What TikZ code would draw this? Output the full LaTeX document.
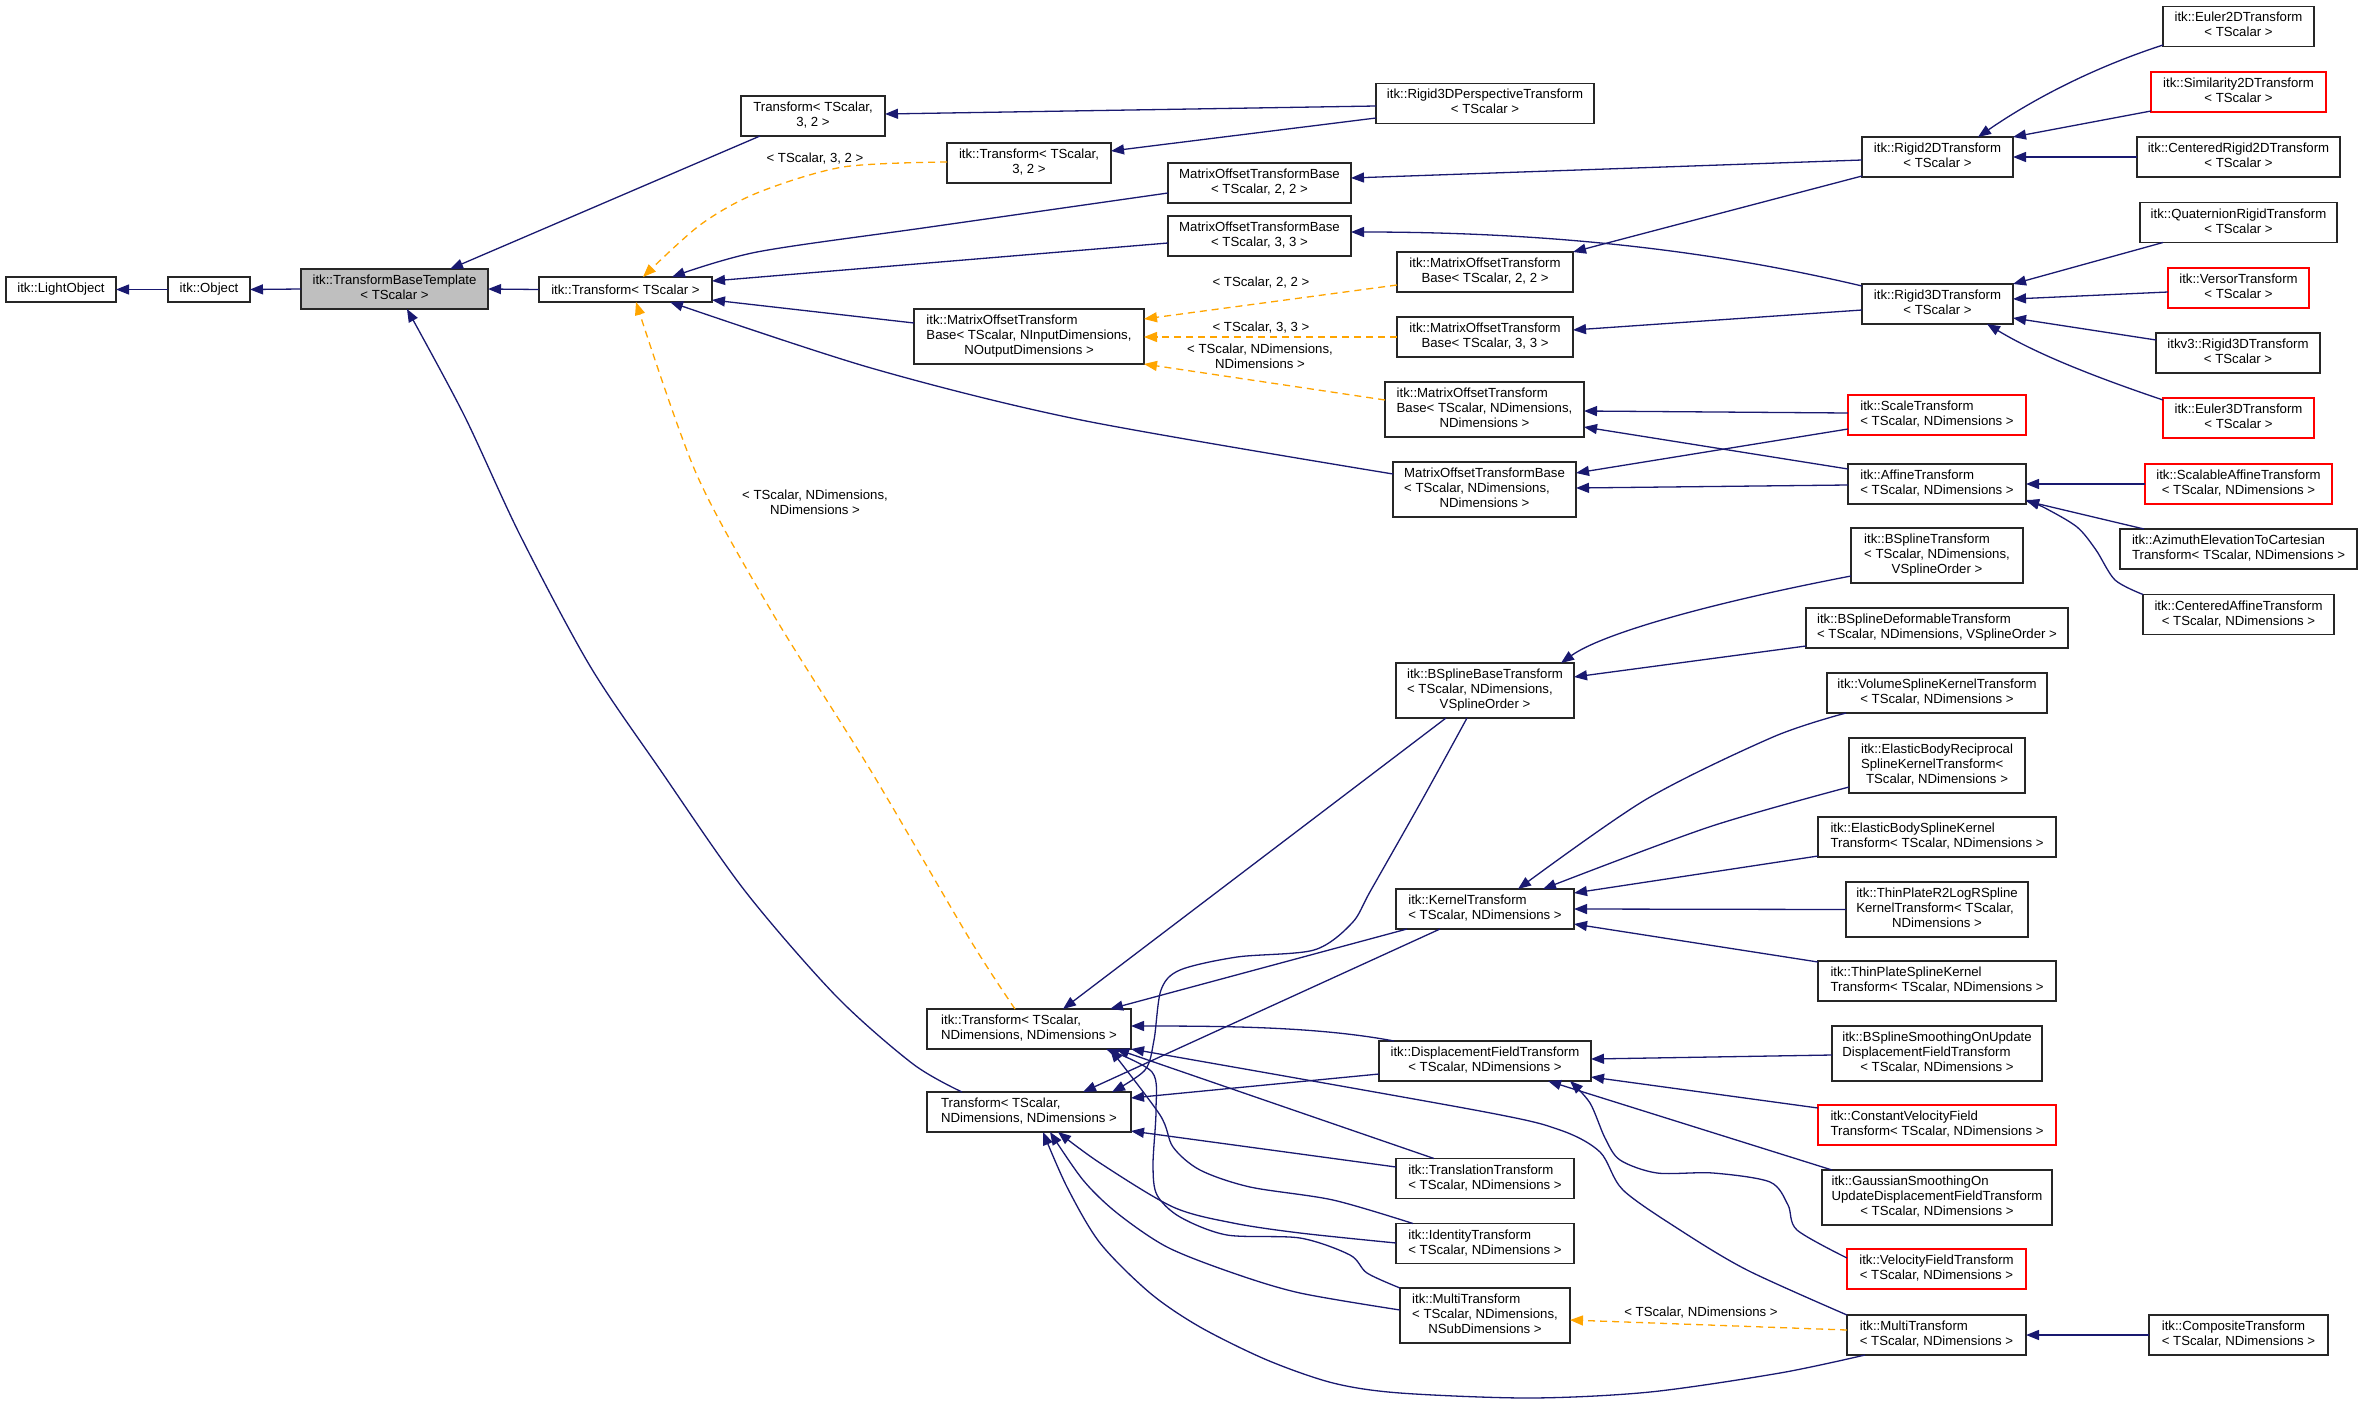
\documentclass[tikz,border=0pt]{standalone}
\usepackage{fontspec}
\setmainfont{Liberation Sans}
\usetikzlibrary{arrows.meta}
\definecolor{navy}{HTML}{191970}
\definecolor{dorange}{HTML}{FFA500}
\definecolor{boxgray}{HTML}{BFBFBF}
\definecolor{boxred}{HTML}{FF0000}
\newcommand{\ml}[2]{\begin{tabular}{@{}l@{}}#1\\\multicolumn{1}{@{}c@{}}{#2}\end{tabular}}
\tikzset{
  cls/.style={draw=black!85, line width=1.4pt, fill=white, inner sep=0pt, outer sep=0pt,
    font=\fontsize{13.2pt}{15pt}\selectfont},
  redcls/.style={cls, draw=boxred},
  bw/.style={minimum width=#1pt},
  bh/.style={minimum height=#1pt},
  lab/.style={inner sep=0pt, align=center, font=\fontsize{13.2pt}{15pt}\selectfont},
  edge/.style={draw=navy, line width=1.3pt, -{Triangle[length=13pt,width=10pt]}},
  dedge/.style={draw=dorange, line width=1.3pt, dash pattern=on 7pt off 5pt, -{Triangle[length=13pt,width=10pt]}}
}
\begin{document}
\begin{tikzpicture}[x=1pt,y=-1pt]
\useasboundingbox (0,0) rectangle (2363,1405);
\fill[white] (0,0) rectangle (2363,1405);
% nodes
\node[cls,bw=110,bh=25] (lo) at (61,289.5) {itk::LightObject};
\node[cls,bw=82,bh=25] (obj) at (209,289.5) {itk::Object};
\node[cls,fill=boxgray,bw=187,bh=40] (tbt) at (394.5,289) {\ml{itk::TransformBaseTemplate}{< TScalar >}};
\node[cls,bw=173,bh=25] (t) at (625.5,289.5) {itk::Transform< TScalar >};
\node[cls,bw=144,bh=40] (t32) at (813,116) {\ml{Transform< TScalar,}{3, 2 >}};
\node[cls,bw=218,bh=40] (r3dp) at (1485,103.5) {\ml{itk::Rigid3DPerspectiveTransform}{< TScalar >}};
\node[cls,bw=164,bh=40] (it32) at (1029,163) {\ml{itk::Transform< TScalar,}{3, 2 >}};
\node[cls,bw=183,bh=40] (m22) at (1259.5,183) {\ml{MatrixOffsetTransformBase}{< TScalar, 2, 2 >}};
\node[cls,bw=183,bh=40] (m33) at (1259.5,236) {\ml{MatrixOffsetTransformBase}{< TScalar, 3, 3 >}};
\node[cls,bw=176,bh=40] (im22) at (1485,272) {\ml{itk::MatrixOffsetTransform}{Base< TScalar, 2, 2 >}};
\node[cls,bw=176,bh=40] (im33) at (1485,337) {\ml{itk::MatrixOffsetTransform}{Base< TScalar, 3, 3 >}};
\node[cls,bw=230,bh=55] (imn) at (1029,336.5) {\ml{itk::MatrixOffsetTransform\\Base< TScalar, NInputDimensions,}{NOutputDimensions >}};
\node[cls,bw=199,bh=55] (imnn) at (1484.5,409.5) {\ml{itk::MatrixOffsetTransform\\Base< TScalar, NDimensions,}{NDimensions >}};
\node[cls,bw=183,bh=55] (mnn) at (1484.5,489.5) {\ml{MatrixOffsetTransformBase\\< TScalar, NDimensions,}{NDimensions >}};
\node[cls,bw=151,bh=40] (euler2d) at (2238.5,26.5) {\ml{itk::Euler2DTransform}{< TScalar >}};
\node[redcls,bw=175,bh=40] (sim2d) at (2238.5,92) {\ml{itk::Similarity2DTransform}{< TScalar >}};
\node[cls,bw=151,bh=40] (r2d) at (1937.5,157) {\ml{itk::Rigid2DTransform}{< TScalar >}};
\node[cls,bw=203,bh=40] (cr2d) at (2238.5,157) {\ml{itk::CenteredRigid2DTransform}{< TScalar >}};
\node[cls,bw=197,bh=40] (quat) at (2238.5,222.5) {\ml{itk::QuaternionRigidTransform}{< TScalar >}};
\node[redcls,bw=141,bh=40] (versor) at (2238.5,288) {\ml{itk::VersorTransform}{< TScalar >}};
\node[cls,bw=151,bh=40] (r3d) at (1937.5,304) {\ml{itk::Rigid3DTransform}{< TScalar >}};
\node[cls,bw=164,bh=40] (v3) at (2238,353) {\ml{itkv3::Rigid3DTransform}{< TScalar >}};
\node[redcls,bw=151,bh=40] (euler3d) at (2238.5,418) {\ml{itk::Euler3DTransform}{< TScalar >}};
\node[redcls,bw=178,bh=40] (scale) at (1937,415) {\ml{itk::ScaleTransform}{< TScalar, NDimensions >}};
\node[cls,bw=178,bh=40] (affine) at (1937,484) {\ml{itk::AffineTransform}{< TScalar, NDimensions >}};
\node[redcls,bw=187,bh=40] (scalaff) at (2238.5,484) {\ml{itk::ScalableAffineTransform}{< TScalar, NDimensions >}};
\node[cls,bw=237,bh=40] (azim) at (2238.5,549) {\ml{itk::AzimuthElevationToCartesian}{Transform< TScalar, NDimensions >}};
\node[cls,bw=191,bh=40] (caff) at (2238.5,614.5) {\ml{itk::CenteredAffineTransform}{< TScalar, NDimensions >}};
\node[cls,bw=172,bh=55] (bspt) at (1937,555.5) {\ml{itk::BSplineTransform\\< TScalar, NDimensions,}{VSplineOrder >}};
\node[cls,bw=262,bh=40] (bspd) at (1937,628) {\ml{itk::BSplineDeformableTransform}{< TScalar, NDimensions, VSplineOrder >}};
\node[cls,bw=178,bh=55] (bspb) at (1485,690.5) {\ml{itk::BSplineBaseTransform\\< TScalar, NDimensions,}{VSplineOrder >}};
\node[cls,bw=220,bh=40] (vol) at (1937,693) {\ml{itk::VolumeSplineKernelTransform}{< TScalar, NDimensions >}};
\node[cls,bw=176,bh=55] (ebr) at (1937,765.5) {\ml{itk::ElasticBodyReciprocal\\SplineKernelTransform<}{TScalar, NDimensions >}};
\node[cls,bw=238,bh=40] (ebs) at (1937,837) {\ml{itk::ElasticBodySplineKernel}{Transform< TScalar, NDimensions >}};
\node[cls,bw=182,bh=55] (tpr2) at (1937,909.5) {\ml{itk::ThinPlateR2LogRSpline\\KernelTransform< TScalar,}{NDimensions >}};
\node[cls,bw=238,bh=40] (tps) at (1937,981) {\ml{itk::ThinPlateSplineKernel}{Transform< TScalar, NDimensions >}};
\node[cls,bw=178,bh=40] (kern) at (1485,909) {\ml{itk::KernelTransform}{< TScalar, NDimensions >}};
\node[cls,bw=204,bh=40] (itn) at (1029,1029) {\ml{itk::Transform< TScalar,}{NDimensions, NDimensions >}};
\node[cls,bw=204,bh=40] (tn) at (1029,1112) {\ml{Transform< TScalar,}{NDimensions, NDimensions >}};
\node[cls,bw=212,bh=40] (df) at (1485,1061) {\ml{itk::DisplacementFieldTransform}{< TScalar, NDimensions >}};
\node[cls,bw=210,bh=55] (bss) at (1937,1053.5) {\ml{itk::BSplineSmoothingOnUpdate\\DisplacementFieldTransform}{< TScalar, NDimensions >}};
\node[redcls,bw=238,bh=40] (cvf) at (1937,1125) {\ml{itk::ConstantVelocityField}{Transform< TScalar, NDimensions >}};
\node[cls,bw=230,bh=55] (gauss) at (1937,1197.5) {\ml{itk::GaussianSmoothingOn\\UpdateDisplacementFieldTransform}{< TScalar, NDimensions >}};
\node[redcls,bw=179,bh=40] (vf) at (1936.5,1269) {\ml{itk::VelocityFieldTransform}{< TScalar, NDimensions >}};
\node[cls,bw=179,bh=40] (mtn) at (1936.5,1335) {\ml{itk::MultiTransform}{< TScalar, NDimensions >}};
\node[cls,bw=179,bh=40] (comp) at (2238.5,1335) {\ml{itk::CompositeTransform}{< TScalar, NDimensions >}};
\node[cls,bw=178,bh=40] (trans) at (1485,1178.5) {\ml{itk::TranslationTransform}{< TScalar, NDimensions >}};
\node[cls,bw=178,bh=40] (ident) at (1485,1243.5) {\ml{itk::IdentityTransform}{< TScalar, NDimensions >}};
\node[cls,bw=170,bh=55] (mtsub) at (1485,1315.5) {\ml{itk::MultiTransform\\< TScalar, NDimensions,}{NSubDimensions >}};
% labels
\node[lab] (l32) at (815,159) {< TScalar, 3, 2 >};
\node[lab] (l22) at (1261,283) {< TScalar, 2, 2 >};
\node[lab] (l33) at (1261,328) {< TScalar, 3, 3 >};
\node[lab] (lnn) at (1260,356) {< TScalar, NDimensions,\\NDimensions >};
\node[lab] (lnn2) at (815,502) {< TScalar, NDimensions,\\NDimensions >};
\node[lab] (lns) at (1701,1313) {< TScalar, NDimensions >};
% edges, left part
\draw[edge] (obj.west) -- (lo.east);
\draw[edge] (tbt.west) -- (obj.east);
\draw[edge] (t.west) -- (tbt.east);
\draw[edge] (t32.south -| 760,0) -- (tbt.north -| 450,0);
\draw[edge] plot[smooth] coordinates {(tn.north -| 962,0) (913,1064) (836,996) (745,891) (661,771) (590,666) (520,535) (464,415) (tbt.south -| 407,0)};
\draw[edge] (r3dp.west |- 0,106) -- (t32.east |- 0,114);
\draw[edge] (r3dp.west |- 0,118) -- (it32.east |- 0,151);
\draw[dedge] plot[smooth] coordinates {(it32.west |- 0,162) (843,167) (757,193) (700,225) (t.north -| 643,0)};
\draw[edge] plot[smooth] coordinates {(m22.west |- 0,193) (930,227) (757,252) (t.north -| 672,0)};
\draw[edge] (m33.west |- 0,243) -- (t.east |- 0,281);
\draw[edge] (imn.west |- 0,323) -- (t.east |- 0,300);
\draw[edge] plot[smooth] coordinates {(mnn.west |- 0,474) (1081,420) (871,368) (t.south -| 670,0)};
\draw[dedge] plot[smooth] coordinates {(itn.north -| 1015,0) (969,938) (871,771) (773,614) (696,473) (t.south -| 636,0)};
\draw[dedge] (im22.west |- 0,285) -- (imn.east |- 0,319);
\draw[dedge] (im33.west |- 0,337) -- (imn.east |- 0,337);
\draw[dedge] (imnn.west |- 0,400) -- (imn.south east);
% right upper
\draw[edge] (r2d.west |- 0,160) -- (m22.east |- 0,178);
\draw[edge] (r2d.west |- 0,176) -- (im22.north east);
\draw[edge] (r3d.west |- 0,286) .. controls (1760,262) and (1600,232) .. (m33.east |- 0,232);
\draw[edge] (r3d.west |- 0,310) -- (im33.east |- 0,330);
\draw[edge] (euler2d.west |- 0,45) .. controls (2080,72) and (2020,108) .. (r2d.north -| 1978,0);
\draw[edge] (sim2d.west |- 0,111) -- (r2d.north east);
\draw[edge] (cr2d.west) -- (r2d.east);
\draw[edge] (quat.south -| 2163,0) -- (r3d.north east);
\draw[edge] (versor.west |- 0,292) -- (r3d.east |- 0,299);
\draw[edge] (v3.west |- 0,340) -- (r3d.east |- 0,318);
\draw[edge] (euler3d.west |- 0,400) .. controls (2080,372) and (2030,350) .. (r3d.south -| 1987,0);
\draw[edge] (scale.west |- 0,413) -- (imnn.east |- 0,411);
\draw[edge] (scale.west |- 0,429) -- (mnn.east |- 0,473);
\draw[edge] (affine.west |- 0,469) -- (imnn.east |- 0,427);
\draw[edge] (affine.west |- 0,485) -- (mnn.east |- 0,488);
\draw[edge] (scalaff.west) -- (affine.east);
\draw[edge] (azim.north -| 2144,0) -- (affine.east |- 0,501);
\draw[edge] plot[smooth] coordinates {(caff.north west) (2115,580) (2096,550) (2077,527) (2045,508) (affine.east |- 0,500)};
\draw[edge] (bspt.west |- 0,576) .. controls (1700,605) and (1600,635) .. (bspb.north -| 1561,0);
\draw[edge] (bspd.west |- 0,646) -- (bspb.east |- 0,677);
\draw[edge] plot[smooth] coordinates {(vol.south -| 1846,0) (1773,737) (1645,800) (kern.north -| 1518,0)};
\draw[edge] plot[smooth] coordinates {(ebr.west |- 0,787) (1709,827) (kern.north -| 1543,0)};
\draw[edge] (ebs.west |- 0,856) -- (kern.east |- 0,893);
\draw[edge] (tpr2.west) -- (kern.east);
\draw[edge] (tps.west |- 0,962) -- (kern.east |- 0,924);
% lower part
\draw[edge] (bspb.south -| 1446,0) -- (itn.north -| 1063,0);
\draw[edge] plot[smooth] coordinates {(bspb.south -| 1467,0) (1422,800) (1371,890) (1352,923) (1314,950) (1237,957) (1180,970) (1161,990) (1154,1040) (1145,1070) (tn.north -| 1112,0)};
\draw[edge] (kern.south -| 1407,0) -- (itn.north -| 1110,0);
\draw[edge] (kern.south -| 1440,0) -- (tn.north -| 1083,0);
\draw[edge] (df.north -| 1394,0) .. controls (1320,1027) and (1230,1026) .. (itn.east |- 0,1026);
\draw[edge] (df.west |- 0,1074) -- (tn.east |- 0,1098);
\draw[edge] (trans.north -| 1434,0) -- (itn.south -| 1116,0);
\draw[edge] (trans.west |- 0,1167) -- (tn.east |- 0,1131);
\draw[edge] plot[smooth] coordinates {(ident.north -| 1413,0) (1333,1200) (1250,1187) (1200,1170) (1173,1147) (1160,1115) (itn.south -| 1110,0)};
\draw[edge] plot[smooth] coordinates {(ident.west |- 0,1243) (1300,1233) (1233,1223) (1173,1207) (1100,1163) (tn.south -| 1058,0)};
\draw[edge] plot[smooth] coordinates {(mtsub.north west) (1367,1273) (1350,1255) (1300,1238) (1227,1235) (1180,1217) (1157,1195) (1153,1165) (1156,1110) (1152,1072) (itn.south -| 1106,0)};
\draw[edge] plot[smooth] coordinates {(mtsub.west |- 0,1310) (1300,1293) (1233,1273) (1167,1247) (1117,1213) (1083,1180) (tn.south -| 1050,0)};
\draw[edge] plot[smooth] coordinates {(mtn.north west) (1747,1270) (1680,1230) (1623,1190) (1600,1152) (1560,1130) (1480,1111) (itn.south east)};
\draw[edge] plot[smooth] coordinates {(mtn.south -| 1865,0) (1780,1373) (1650,1392) (1530,1398) (1400,1393) (1333,1383) (1267,1360) (1200,1327) (1150,1293) (1100,1243) (1067,1187) (tn.south -| 1043,0)};
\draw[dedge] (mtn.west |- 0,1330) -- (mtsub.east |- 0,1320);
\draw[edge] (comp.west) -- (mtn.east);
\draw[edge] (bss.west |- 0,1055) -- (df.east |- 0,1059);
\draw[edge] (cvf.west |- 0,1108) -- (df.east |- 0,1077);
\draw[edge] (gauss.north -| 1832,0) -- (df.south -| 1548,0);
\draw[edge] plot[smooth] coordinates {(vf.west |- 0,1258) (1797,1230) (1788,1205) (1770,1182) (1713,1173) (1657,1173) (1620,1160) (1605,1138) (1590,1103) (df.south -| 1570,0)};
\end{tikzpicture}
\end{document}
